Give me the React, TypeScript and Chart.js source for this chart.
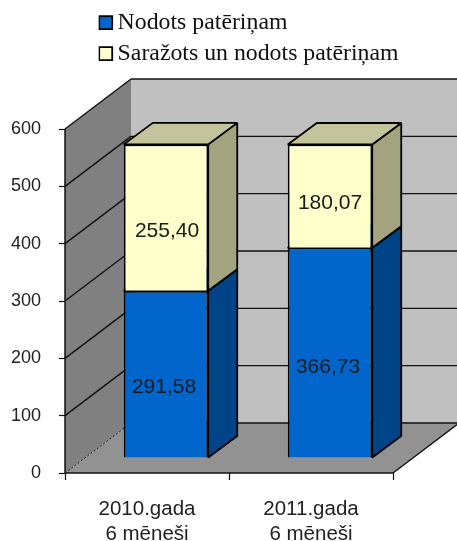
import React, { useEffect, useRef } from "react";
import { Chart, registerables } from "chart.js";

Chart.register(...registerables);

const categories = [["2010.gada", "6 mēneši"], ["2011.gada", "6 mēneši"]];
const seriesNames = ["Nodots patēriņam", "Saražots un nodots patēriņam"];
const delivered = [291.58, 366.73];
const produced = [255.4, 180.07];
const yTicksMax = 600;
const yStep = 100;

// 3D projection offsets (pixels)
const WALL_DX = 66;
const WALL_DY = 50;
const BAR_DX = 19;
const BAR_DY = 15;
const DEPTH_DX = 29;
const DEPTH_DY = 21.5;

// Value-label placement relative to the centre of each front face, per series then per bar
const labelNudge = [
  [[-2, 13], [-2, 15]],
  [[1, 14], [0, 7]],
];

const faces = [
  { side: "#004488", top: "#0055AA" },
  { side: "#A3A380", top: "#C3C39C" },
];

function poly(ctx: any, pts: number[][], fill: string | null, stroke: string | null, lw = 1.8) {
  ctx.beginPath();
  pts.forEach((p, i) => (i ? ctx.lineTo(p[0], p[1]) : ctx.moveTo(p[0], p[1])));
  ctx.closePath();
  if (fill) {
    ctx.fillStyle = fill;
    ctx.fill();
  }
  if (stroke) {
    ctx.strokeStyle = stroke;
    ctx.lineWidth = lw;
    ctx.lineJoin = "bevel";
    ctx.stroke();
  }
}

function seg(ctx: any, x1: number, y1: number, x2: number, y2: number, lw = 1.4) {
  ctx.beginPath();
  ctx.moveTo(x1, y1);
  ctx.lineTo(x2, y2);
  ctx.strokeStyle = "#111";
  ctx.lineWidth = lw;
  ctx.stroke();
}

const scene3d = {
  id: "scene3d",
  afterLayout(chart: any) {
    chart.legend.left = 98.5;
    chart.legend.right = chart.width;
    chart.legend.width = chart.width - 98.5;
    chart.legend.top = 3.5;
  },
  beforeDatasetsDraw(chart: any) {
    const { ctx, scales } = chart;
    const y = scales.y;
    const x = scales.x;
    const l = x.left;
    const r = x.right;
    const y0 = y.getPixelForValue(0);
    const yT = y.getPixelForValue(yTicksMax);
    ctx.save();
    // back wall
    poly(ctx, [[l + WALL_DX, yT - WALL_DY], [chart.width + 5, yT - WALL_DY], [chart.width + 5, y0 - WALL_DY], [l + WALL_DX, y0 - WALL_DY]], "#C0C0C0", null);
    // left wall
    poly(ctx, [[l, yT], [l + WALL_DX, yT - WALL_DY], [l + WALL_DX, y0 - WALL_DY], [l, y0]], "#808080", null);
    // floor
    poly(ctx, [[l, y0], [l + WALL_DX, y0 - WALL_DY], [r + WALL_DX, y0 - WALL_DY], [r, y0]], "#929292", null);
    // grid lines
    for (let v = 0; v <= yTicksMax; v += yStep) {
      const py = y.getPixelForValue(v);
      if (v === 0) {
        ctx.setLineDash([2, 2]);
        seg(ctx, l, py, l + WALL_DX, py - WALL_DY, 1);
        ctx.setLineDash([]);
      } else {
        seg(ctx, l, py, l + WALL_DX, py - WALL_DY);
      }
      seg(ctx, l + WALL_DX, py - WALL_DY, chart.width + 5, py - WALL_DY);
    }
    seg(ctx, r, y0, r + WALL_DX, y0 - WALL_DY);
    // bar sides and tops
    chart.data.datasets.forEach((_: any, di: number) => {
      chart.getDatasetMeta(di).data.forEach((bar: any) => {
        const p = bar.getProps(["x", "y", "base", "width"]);
        const xr = p.x + p.width / 2 + BAR_DX;
        const xl = p.x - p.width / 2 + BAR_DX;
        const t = p.y - BAR_DY;
        const b = p.base - BAR_DY;
        poly(ctx, [[xr, t], [xr + DEPTH_DX, t - DEPTH_DY], [xr + DEPTH_DX, b - DEPTH_DY], [xr, b]], faces[di].side, "#000");
        poly(ctx, [[xl, t], [xl + DEPTH_DX, t - DEPTH_DY], [xr + DEPTH_DX, t - DEPTH_DY], [xr, t]], faces[di].top, "#000");
      });
    });
    ctx.restore();
  },
  beforeDatasetDraw(chart: any) {
    chart.ctx.save();
    chart.ctx.translate(BAR_DX, -BAR_DY);
  },
  afterDatasetDraw(chart: any) {
    chart.ctx.restore();
  },
  afterDatasetsDraw(chart: any) {
    const { ctx, scales } = chart;
    ctx.save();
    ctx.font = '21px "Liberation Sans"';
    ctx.fillStyle = "#1a1a1a";
    ctx.textAlign = "center";
    ctx.textBaseline = "middle";
    chart.data.datasets.forEach((ds: any, di: number) => {
      chart.getDatasetMeta(di).data.forEach((bar: any, i: number) => {
        const p = bar.getProps(["x", "y", "base"]);
        const label = ds.data[i].toFixed(2).replace(".", ",");
        const [nx, ny] = labelNudge[di][i];
        ctx.fillText(label, p.x + BAR_DX + nx, (p.y + p.base) / 2 - BAR_DY + ny);
      });
    });
    // vertical and horizontal axis lines over the walls
    const l = scales.x.left;
    const y0 = scales.y.getPixelForValue(0);
    const yT = scales.y.getPixelForValue(yTicksMax);
    seg(ctx, l, yT, l, y0, 1.5);
    seg(ctx, l, y0, scales.x.right, y0, 1.5);
    ctx.restore();
  },
};

export default function App() {
  const ref = useRef<HTMLCanvasElement>(null);
  useEffect(() => {
    const chart = new Chart(ref.current as HTMLCanvasElement, {
      type: "bar",
      data: {
        labels: categories as any,
        datasets: [
          { label: seriesNames[0], data: delivered, backgroundColor: "#0066CC", borderColor: "#000", borderWidth: 1.8, clip: false as any },
          { label: seriesNames[1], data: produced, backgroundColor: "#FFFFCC", borderColor: "#000", borderWidth: 1.8, clip: false as any },
        ],
      },
      options: {
        responsive: false,
        animation: false,
        categoryPercentage: 1,
        barPercentage: 0.515,
        layout: { padding: { top: 57, right: 64, left: 0, bottom: 0 } },
        scales: {
          x: {
            stacked: true,
            afterFit: (s: any) => { s.height = 68; },
            border: { display: false },
            grid: { drawOnChartArea: false, tickColor: "#111", tickLength: 7, tickWidth: 1.2 },
            ticks: { color: "#222", font: { family: "Liberation Sans", size: 20.5, lineHeight: 1.2 }, padding: 17, maxRotation: 0 },
          },
          y: {
            stacked: true,
            min: 0,
            max: yTicksMax,
            afterFit: (s: any) => { s.width = 65; },
            border: { display: false },
            grid: { drawOnChartArea: false, tickColor: "#111", tickLength: 6, tickWidth: 1.2 },
            ticks: { stepSize: yStep, color: "#222", font: { family: "Liberation Sans", size: 18 }, padding: 18 },
          },
        },
        plugins: {
          tooltip: { enabled: false },
          legend: {
            position: "top",
            align: "start",
            labels: {
              usePointStyle: true,
              pointStyle: "rect",
              boxWidth: 0.01,
              boxHeight: 13,
              padding: 7.2,
              color: "#111",
              font: { family: "Liberation Serif", size: 23.8 },
            },
          },
        },
      } as any,
      plugins: [scene3d],
    });
    return () => chart.destroy();
  }, []);
  return (
    <div style={{ position: "fixed", left: 0, top: 0, width: 457, height: 541, background: "#fff" }}>
      <canvas ref={ref} width={457} height={541} style={{ display: "block" }} />
    </div>
  );
}
